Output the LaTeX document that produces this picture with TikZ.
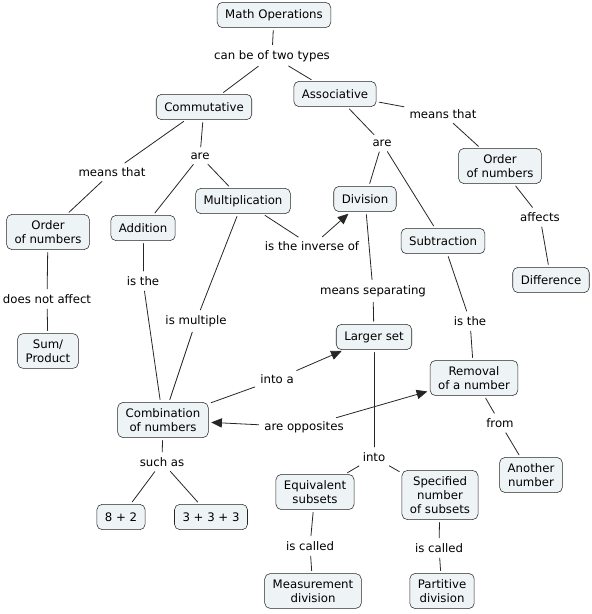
\documentclass[tikz,border=0pt]{standalone}
\usepackage{fontspec}
\setmainfont{DejaVu Sans}
\usetikzlibrary{arrows.meta}
\definecolor{boxfill}{HTML}{EEF3F5}
\tikzset{concept/.style={draw=black!85,fill=boxfill,rounded corners=4pt,align=center,inner xsep=6pt,inner ysep=4.5pt,minimum height=19pt,font=\fontsize{8.8}{10.5}\selectfont},
linkword/.style={inner sep=2pt,align=center,font=\fontsize{8.8}{10.5}\selectfont},
link/.style={draw=black!85,line width=0.6pt,shorten >=2pt,shorten <=2pt}}

\begin{document}
\begin{tikzpicture}[line cap=round,line join=round,>={Triangle[length=8pt,width=7pt]},x=0.75pt,y=-0.75pt]
\useasboundingbox (0,0) rectangle (592,614);
% concepts
\node[concept] (mathops) at (274,15) {Math Operations};
\node[concept] (comm) at (204,107) {Commutative};
\node[concept] (assoc) at (335,94) {Associative};
\node[concept] (orderl) at (48,232) {Order\\of numbers};
\node[concept] (add) at (143,228) {Addition};
\node[concept] (mult) at (243,201) {Multiplication};
\node[concept] (sumprod) at (48,351) {Sum/\\Product};
\node[concept] (div) at (365,199) {Division};
\node[concept] (orderr) at (500,166) {Order\\of numbers};
\node[concept] (sub) at (443,241) {Subtraction};
\node[concept] (diff) at (551,280) {Difference};
\node[concept] (larger) at (374,337) {Larger set};
\node[concept] (removal) at (474,378) {Removal\\of a number};
\node[concept] (comb) at (163,420) {Combination\\of numbers};
\node[concept] (another) at (531,475) {Another\\number};
\node[concept] (equiv) at (315,492) {Equivalent\\subsets};
\node[concept] (spec) at (440,495) {Specified\\number\\of subsets};
\node[concept] (eight) at (121,517) {8 + 2};
\node[concept] (three) at (211,517) {3 + 3 + 3};
\node[concept] (measure) at (313,591) {Measurement\\division};
\node[concept] (partitive) at (442,591) {Partitive\\division};
% linking words
\node[linkword] (twotypes) at (272,56) {can be of two types};
\node[linkword] (meansl) at (112,172) {means that};
\node[linkword] (arel) at (200,156) {are};
\node[linkword] (meansr) at (443,114) {means that};
\node[linkword] (arer) at (382,143) {are};
\node[linkword] (notaffect) at (47,299) {does not affect};
\node[linkword] (affects) at (540,217) {affects};
\node[linkword] (isthel) at (143,281) {is the};
\node[linkword] (multiple) at (196,321) {is multiple};
\node[linkword] (inverse) at (312,246) {is the inverse of};
\node[linkword] (separating) at (373,291) {means separating};
\node[linkword] (isther) at (470,321) {is the};
\node[linkword] (intoa) at (277,379) {into a};
\node[linkword] (opposites) at (304,427) {are opposites};
\node[linkword] (from) at (500,423) {from};
\node[linkword] (suchas) at (162,462) {such as};
\node[linkword] (into) at (374,457) {into};
\node[linkword] (calledl) at (310,546) {is called};
\node[linkword] (calledr) at (439,548) {is called};
% connections
\draw[link] (mathops) -- (twotypes);
\draw[link] (twotypes) -- (comm);
\draw[link] (twotypes) -- (assoc);
\draw[link] (comm) -- (meansl);
\draw[link] (meansl) -- (orderl);
\draw[link] (comm) -- (arel);
\draw[link] (arel) -- (add);
\draw[link] (arel) -- (mult);
\draw[link] (assoc) -- (meansr);
\draw[link] (meansr) -- (orderr);
\draw[link] (assoc) -- (arer);
\draw[link] (arer) -- (div);
\draw[link] (arer) -- (sub);
\draw[link] (orderl) -- (notaffect);
\draw[link] (notaffect) -- (sumprod);
\draw[link] (orderr) -- (affects);
\draw[link] (affects) -- (diff);
\draw[link] (add) -- (isthel);
\draw[link] (isthel) -- (comb);
\draw[link] (mult) -- (multiple);
\draw[link] (multiple) -- (comb);
\draw[link] (mult) -- (inverse);
\draw[link,->] (inverse) -- (div);
\draw[link] (div) -- (separating);
\draw[link] (separating) -- (larger);
\draw[link] (sub) -- (isther);
\draw[link] (isther) -- (removal);
\draw[link] (comb) -- (intoa);
\draw[link,->] (intoa) -- (larger);
\draw[link,->] (opposites) -- (comb);
\draw[link,->] (opposites) -- (removal);
\draw[link] (removal) -- (from);
\draw[link] (from) -- (another);
\draw[link] (comb) -- (suchas);
\draw[link] (suchas) -- (eight);
\draw[link] (suchas) -- (three);
\draw[link] (larger) -- (into);
\draw[link] (into) -- (equiv);
\draw[link] (into) -- (spec);
\draw[link] (equiv) -- (calledl);
\draw[link] (calledl) -- (measure);
\draw[link] (spec) -- (calledr);
\draw[link] (calledr) -- (partitive);
\end{tikzpicture}
\end{document}
